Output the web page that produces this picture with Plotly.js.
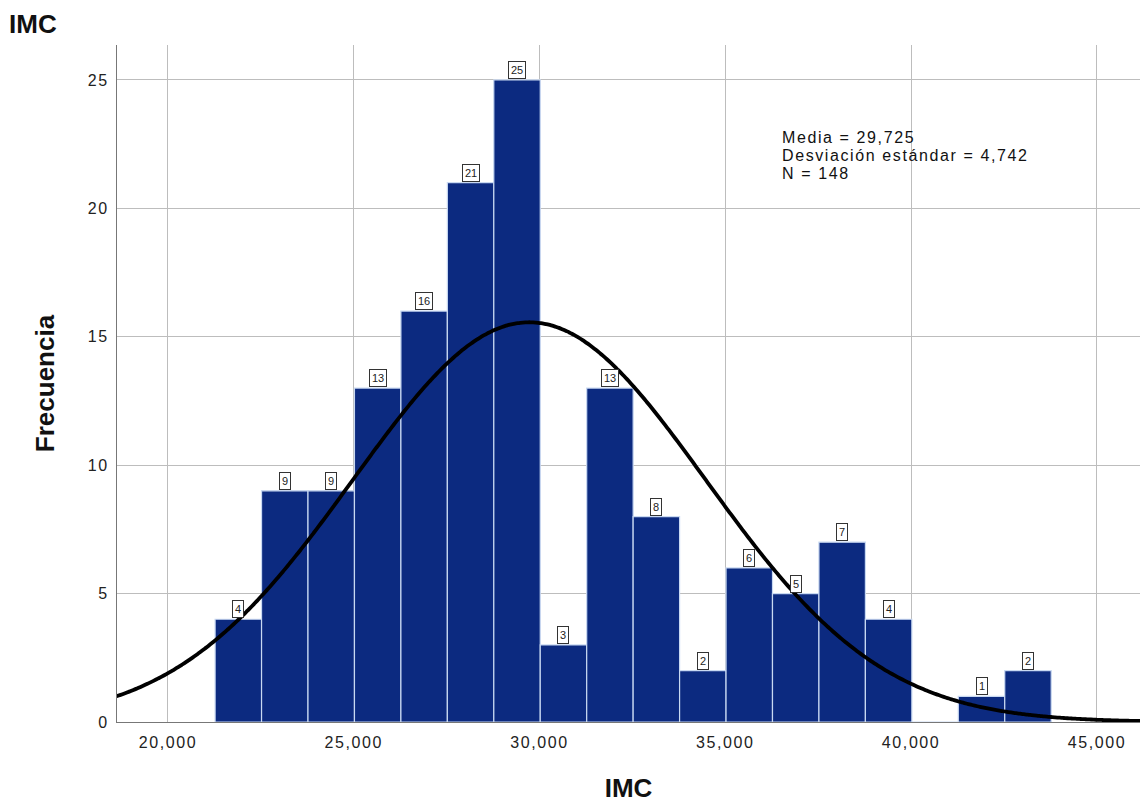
<!DOCTYPE html>
<html>
<head>
<meta charset="utf-8">
<script src="https://cdn.plot.ly/plotly-3.0.1.min.js"></script>
<style>
html,body{margin:0;padding:0;background:#fff;}
#chart{width:1140px;height:803px;}
#chart .xtick text, #chart .ytick text { letter-spacing: 1.6px; }
#chart .stats-note text { letter-spacing: 1.6px; }
</style>
</head>
<body>
<div id="chart"></div>
<script>
// Data
const counts = [4, 9, 9, 13, 16, 21, 25, 3, 13, 8, 2, 6, 5, 7, 4, 0, 1, 2];
const binStart = 21.27;
const binWidth = 1.25;
const statMean = 29.725;
const statSd = 4.742;
const statN = 148;
const xTickVals = [20, 25, 30, 35, 40, 45];
const yTickVals = [0, 5, 10, 15, 20, 25];
const statsLines = ["Media = 29,725", "Desviación estándar = 4,742", "N = 148"];

const centers = counts.map((c, i) => binStart + binWidth * (i + 0.5));

// Normal curve defined by the reported mean / sd, scaled to counts
const curveX = [];
const curveY = [];
for (let k = 0; k <= 400; k++) {
  const x = 18.5 + k * (46.3 - 18.5) / 400;
  curveX.push(x);
  const z = (x - statMean) / statSd;
  curveY.push(statN * binWidth * Math.exp(-0.5 * z * z) / (statSd * Math.sqrt(2 * Math.PI)));
}

const FONT = 'Arial, Liberation Sans, sans-serif';

const bars = {
  type: 'bar',
  x: centers,
  y: counts,
  width: binWidth,
  marker: { color: '#0c2a80', line: { color: '#c9d9f2', width: 1.2 } },
  hoverinfo: 'x+y'
};
const curve = {
  type: 'scatter',
  mode: 'lines',
  x: curveX,
  y: curveY,
  line: { color: '#000', width: 3.8, shape: 'spline' },
  hoverinfo: 'skip'
};

const annotations = [];
counts.forEach((c, i) => {
  if (c > 0) {
    annotations.push({
      x: centers[i], y: c, xref: 'x', yref: 'y',
      text: String(c), showarrow: false,
      yanchor: 'bottom', yshift: 1,
      font: { family: FONT, size: 11, color: '#222' },
      bgcolor: '#fff', bordercolor: '#333', borderwidth: 1, borderpad: 2
    });
  }
});
const statsTop = 0.864;
const statsStep = 0.0266;
statsLines.forEach((line, j) => {
  annotations.push({
    xref: 'paper', yref: 'paper', x: 0.648, y: statsTop - j * statsStep,
    xanchor: 'left', yanchor: 'middle', align: 'left', showarrow: false,
    text: line,
    font: { family: FONT, size: 16, color: '#111' }
  });
});

const layout = {
  width: 1140, height: 803,
  margin: { l: 117, r: 0, t: 45, b: 81 },
  paper_bgcolor: '#fff', plot_bgcolor: '#fff',
  separators: ',.',
  showlegend: false,
  bargap: 0,
  title: {
    text: '<b>IMC</b>', x: 0.008, xanchor: 'left', y: 0.97, yanchor: 'middle',
    font: { family: FONT, size: 26, color: '#111' }
  },
  xaxis: {
    range: [18.63, 46.16],
    tickvals: xTickVals, tickformat: '.3f',
    showgrid: true, gridcolor: '#bdbdbd', gridwidth: 1,
    zeroline: false, showline: true, linecolor: '#777', linewidth: 1,
    ticks: '', ticklen: 0, ticklabelstandoff: 6,
    tickfont: { family: FONT, size: 16, color: '#222' },
    title: { text: '<b>IMC</b>', standoff: 32,
      font: { family: FONT, size: 26, color: '#111' } }
  },
  yaxis: {
    range: [0, 26.36],
    tickvals: yTickVals,
    showgrid: true, gridcolor: '#bdbdbd', gridwidth: 1,
    zeroline: false, showline: true, linecolor: '#777', linewidth: 1,
    ticks: '', ticklen: 0, ticklabelstandoff: 4,
    tickfont: { family: FONT, size: 16, color: '#222' },
    title: { text: '<b>Frecuencia</b>', standoff: 28,
      font: { family: FONT, size: 26, color: '#111' } }
  },
  annotations: annotations
};

Plotly.newPlot('chart', [bars, curve], layout, { displayModeBar: false, staticPlot: true }).then(function () {
  // tag the stats annotations so the letter-spacing style reaches them
  const anns = document.querySelectorAll('#chart .annotation');
  for (let k = Math.max(0, anns.length - statsLines.length); k < anns.length; k++) {
    anns[k].classList.add('stats-note');
  }
});
</script>
</body>
</html>
